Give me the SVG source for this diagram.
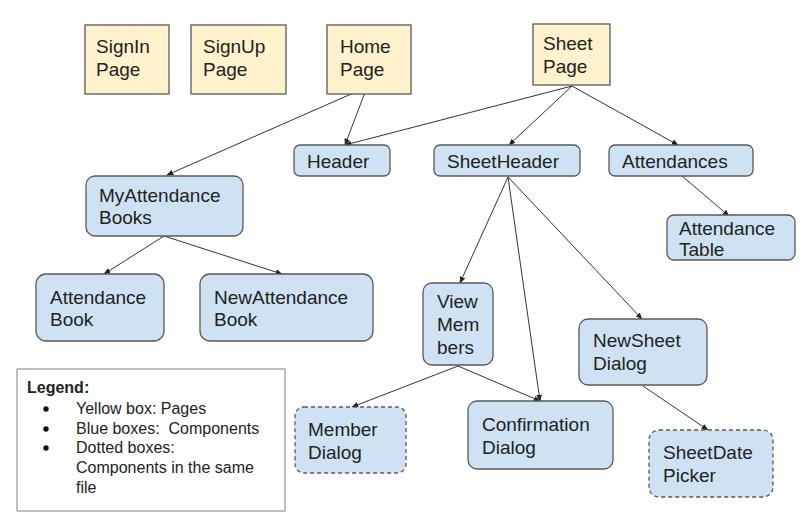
<svg xmlns="http://www.w3.org/2000/svg" width="805" height="521" viewBox="0 0 805 521">
<defs>
<style>
.page{fill:#fff2cc;stroke:#595959;stroke-width:1.3}
.comp{fill:#cfe2f3;stroke:#595959;stroke-width:1.3}
.dot{fill:#cfe2f3;stroke:#595959;stroke-width:1.3;stroke-dasharray:4 3}
.t{font-family:"Liberation Sans",Arial,sans-serif;font-size:19px;fill:#222}
.lg{font-family:"Liberation Sans",Arial,sans-serif;font-size:16px;fill:#222}
.edge{stroke:#333;stroke-width:1;fill:none;marker-end:url(#arr)}
</style>
<marker id="arr" viewBox="0 0 10 10" refX="9" refY="5" markerWidth="7" markerHeight="7" orient="auto" markerUnits="userSpaceOnUse">
<path d="M0,1 L10,5 L0,9 z" fill="#222"/>
</marker>
</defs>
<rect width="805" height="521" fill="#ffffff"/>
<g id="connectors">
<line class="edge" x1="367" y1="87" x2="167" y2="175"/>
<line class="edge" x1="367" y1="87" x2="345" y2="145"/>
<line class="edge" x1="572" y1="86" x2="345" y2="145"/>
<line class="edge" x1="572" y1="86" x2="509" y2="145"/>
<line class="edge" x1="572" y1="86" x2="678" y2="145"/>
<line class="edge" x1="682" y1="176" x2="729" y2="216"/>
<line class="edge" x1="508" y1="177" x2="460" y2="283"/>
<line class="edge" x1="508" y1="177" x2="540" y2="401"/>
<line class="edge" x1="508" y1="177" x2="642" y2="319"/>
<line class="edge" x1="164" y1="236" x2="104" y2="274"/>
<line class="edge" x1="164" y1="236" x2="282" y2="274"/>
<line class="edge" x1="458" y1="366" x2="352" y2="407"/>
<line class="edge" x1="458" y1="366" x2="540" y2="401"/>
<line class="edge" x1="643" y1="386" x2="708" y2="430"/>
</g>
<g id="signin"><rect class="page" x="85" y="25" width="84" height="69"/><text class="t" x="96" y="53">SignIn</text><text class="t" x="96" y="76">Page</text></g>
<g id="signup"><rect class="page" x="191" y="25" width="95" height="69"/><text class="t" x="203" y="53">SignUp</text><text class="t" x="203" y="76">Page</text></g>
<g id="home"><rect class="page" x="327" y="25" width="84" height="69"/><text class="t" x="340" y="53">Home</text><text class="t" x="340" y="76">Page</text></g>
<g id="sheet"><rect class="page" x="533" y="24" width="77" height="61"/><text class="t" x="543" y="50">Sheet</text><text class="t" x="543" y="73">Page</text></g>
<g id="header"><rect class="comp" x="294" y="145" width="96" height="31" rx="6"/><text class="t" x="307" y="168">Header</text></g>
<g id="sheetheader"><rect class="comp" x="434" y="145" width="146" height="31" rx="6"/><text class="t" x="447" y="168">SheetHeader</text></g>
<g id="attendances"><rect class="comp" x="609" y="145" width="144" height="31" rx="6"/><text class="t" x="622" y="168">Attendances</text></g>
<g id="attendancetable"><rect class="comp" x="667" y="215" width="128" height="45" rx="7"/><text class="t" x="679" y="235">Attendance</text><text class="t" x="679" y="256">Table</text></g>
<g id="myattendancebooks"><rect class="comp" x="86" y="176" width="157" height="60" rx="9"/><text class="t" x="99" y="202">MyAttendance</text><text class="t" x="99" y="224">Books</text></g>
<g id="attendancebook"><rect class="comp" x="36" y="274" width="128" height="67" rx="10"/><text class="t" x="50" y="304">Attendance</text><text class="t" x="50" y="326">Book</text></g>
<g id="newattendancebook"><rect class="comp" x="200" y="274" width="173" height="67" rx="10"/><text class="t" x="214" y="304">NewAttendance</text><text class="t" x="214" y="326">Book</text></g>
<g id="viewmembers"><rect class="comp" x="423" y="283" width="70" height="82" rx="9"/><text class="t" x="437" y="308">View</text><text class="t" x="437" y="331">Mem</text><text class="t" x="437" y="354">bers</text></g>
<g id="newsheetdialog"><rect class="comp" x="579" y="319" width="128" height="66" rx="9"/><text class="t" x="593" y="347">NewSheet</text><text class="t" x="593" y="370">Dialog</text></g>
<g id="memberdialog"><rect class="dot" x="295" y="407" width="111" height="66" rx="9"/><text class="t" x="308" y="436">Member</text><text class="t" x="308" y="459">Dialog</text></g>
<g id="confirmationdialog"><rect class="comp" x="468" y="401" width="145" height="68" rx="9"/><text class="t" x="482" y="431">Confirmation</text><text class="t" x="482" y="454">Dialog</text></g>
<g id="sheetdatepicker"><rect class="dot" x="649" y="430" width="124" height="67" rx="10"/><text class="t" x="663" y="459">SheetDate</text><text class="t" x="663" y="482">Picker</text></g>
<g id="legend">
<rect x="17" y="369" width="268" height="142" fill="#ffffff" stroke="#9e9e9e" stroke-width="1.3"/>
<text class="lg" x="27" y="393" font-weight="bold">Legend:</text>
<circle cx="46" cy="409" r="2.7" fill="#111"/>
<text class="lg" x="76" y="414">Yellow box: Pages</text>
<circle cx="46" cy="429" r="2.7" fill="#111"/>
<text class="lg" x="76" y="434" xml:space="preserve">Blue boxes:  Components</text>
<circle cx="46" cy="448" r="2.7" fill="#111"/>
<text class="lg" x="76" y="453">Dotted boxes:</text>
<text class="lg" x="76" y="473">Components in the same</text>
<text class="lg" x="76" y="493">file</text>
</g>
</svg>
